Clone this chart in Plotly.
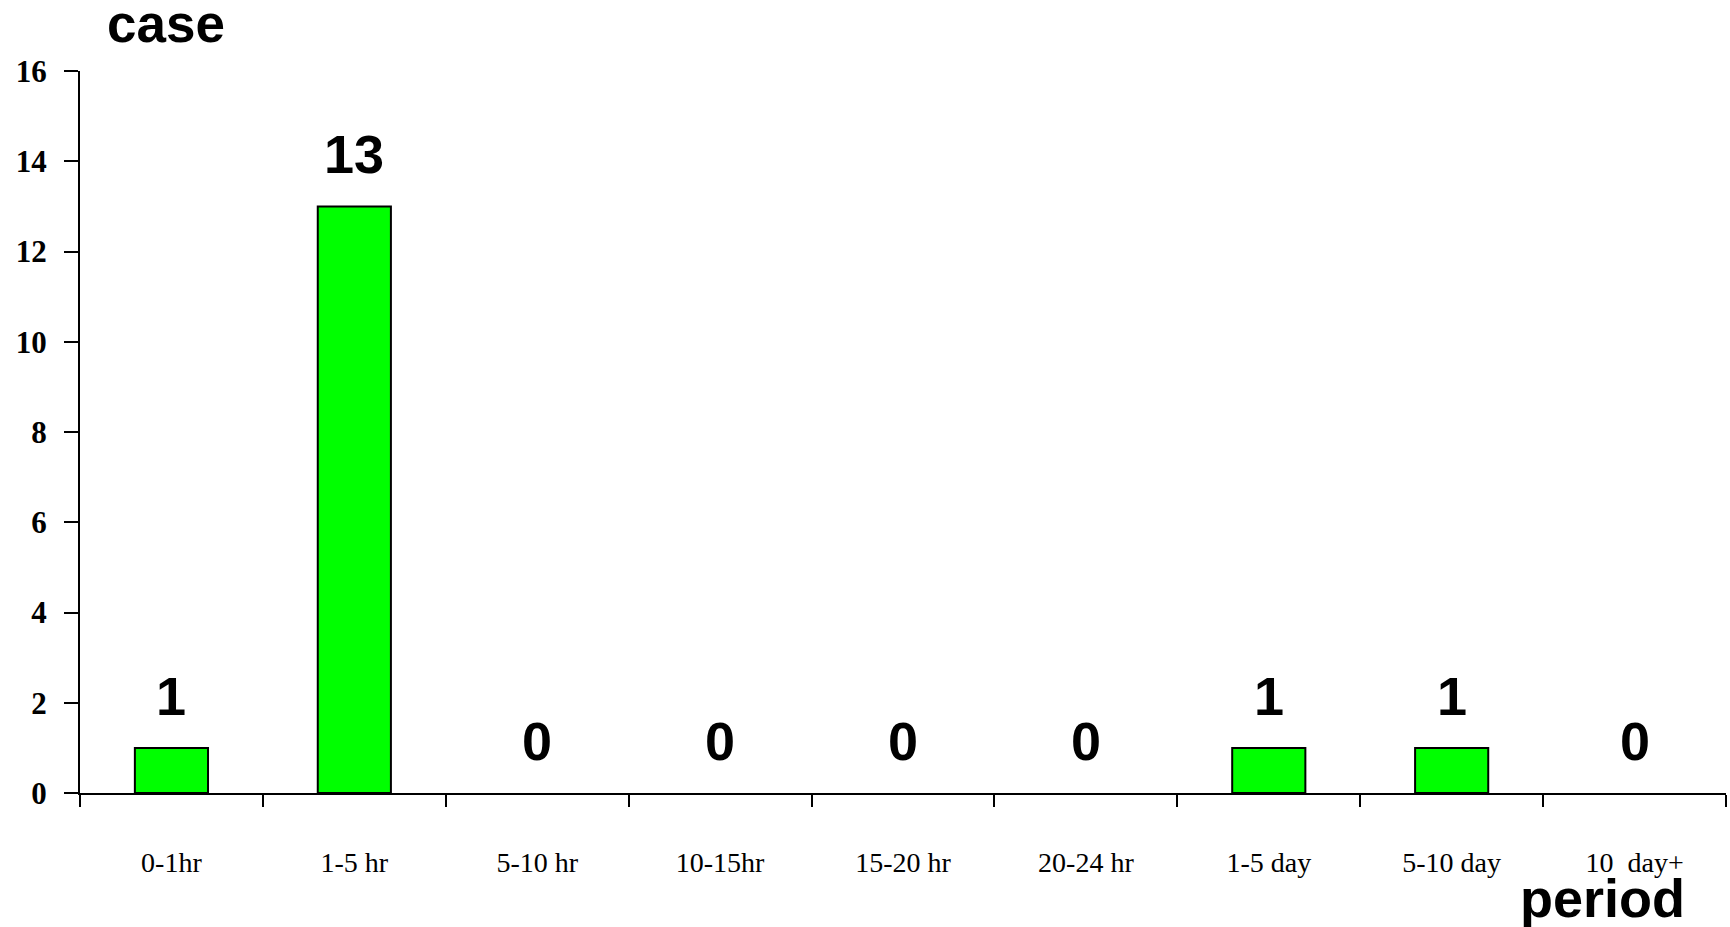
import plotly.graph_objects as go

periods = ["0-1hr", "1-5 hr", "5-10 hr", "10-15hr", "15-20 hr", "20-24 hr",
           "1-5 day", "5-10 day", "10\u00a0 day+"]
cases = [1, 13, 0, 0, 0, 0, 1, 1, 0]
y_ticks = [0, 2, 4, 6, 8, 10, 12, 14, 16]

# empty categories get no outline so nothing sits on the axis line
outline_widths = [2 if v > 0 else 0 for v in cases]

fig = go.Figure()
fig.add_trace(go.Bar(
    x=periods, y=cases, width=0.4,
    marker=dict(color="#00FF00", line=dict(color="black", width=outline_widths)),
    hoverinfo="skip",
))

# value labels above each bar
for p, v in zip(periods, cases):
    fig.add_annotation(x=p, y=v, text=str(v), showarrow=False,
                       yanchor="middle", yshift=52,
                       font=dict(family="Liberation Sans, Arial", size=54, color="black",
                                 weight="bold"))

fig.add_annotation(xref="paper", yref="paper", x=0.052, y=1.066, text="case",
                   showarrow=False, xanchor="center", yanchor="middle", borderpad=0,
                   font=dict(family="Liberation Sans, Arial", size=53, color="black",
                             weight="bold"))
fig.add_annotation(xref="paper", yref="paper", x=0.925, y=-0.146, text="period",
                   showarrow=False, xanchor="center", yanchor="middle", borderpad=0,
                   font=dict(family="Liberation Sans, Arial", size=54, color="black",
                             weight="bold"))

fig.update_layout(
    width=1730, height=927,
    margin=dict(l=80, r=4, t=71, b=134),
    plot_bgcolor="white", paper_bgcolor="white",
    showlegend=False,
    bargap=0.6,
)
fig.update_xaxes(
    type="category", showgrid=False, zeroline=False,
    showline=True, linecolor="black", linewidth=2,
    ticks="outside", tickson="boundaries", ticklen=12, tickwidth=2, tickcolor="black",
    ticklabelstandoff=43,
    tickfont=dict(family="Liberation Serif, Times New Roman", size=28, color="black"),
)
fig.update_yaxes(
    range=[0, 16], tickvals=y_ticks, showgrid=False, zeroline=False,
    showline=True, linecolor="black", linewidth=2,
    ticks="outside", ticklen=14, tickwidth=2, tickcolor="black",
    ticklabelstandoff=11,
    tickfont=dict(family="Liberation Serif, Times New Roman", size=31, color="black",
                  weight="bold"),
)

fig.write_html("out.html")
